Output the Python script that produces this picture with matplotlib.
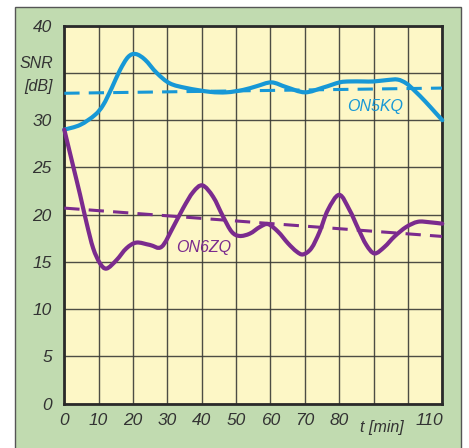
import matplotlib
matplotlib.use("Agg")
import matplotlib.pyplot as plt
from matplotlib.patches import Rectangle, PathPatch
from matplotlib.path import Path

# ON5KQ (blue) readings, t in minutes / SNR in dB
t_on5kq = [0, 4.6, 8.9, 11.3, 13.8, 16.2, 18.6, 20.8, 23.5, 26.9, 30.7,
           35.6, 42.4, 47.2, 52, 56, 60.3, 64.6, 70, 75.3, 80.1, 83, 87,
           90, 94, 97, 99.5, 102, 105, 108, 110]
snr_on5kq = [29.0, 29.5, 30.55, 31.6, 33.4, 35.3, 36.7, 37.0, 36.4,
             35.0, 33.9, 33.4, 33.0, 32.95, 33.2, 33.6, 34.0, 33.5, 32.95,
             33.45, 34.0, 34.1, 34.1, 34.1, 34.25, 34.3, 33.9, 33.1, 32.0, 30.8, 30.0]

# ON6ZQ (purple) readings
t_on6zq = [0, 2.6, 4.6, 6.5, 8.4, 10.4, 12.3, 15.2, 18.1, 21, 24.9, 28.3, 31.7,
           34.6, 37.5, 40.2, 43.3, 46.2, 48.7, 51, 54, 56.9, 59.3, 62.2, 65.1,
           67.6, 69.5, 71.9, 74.3, 76.7, 80, 83, 85.5, 87.9, 90.3, 93.2, 96.1,
           99.5, 102.9, 106.3, 110]
snr_on6zq = [29.0, 25.1, 22.1, 19.1, 16.45, 14.85, 14.3, 15.2, 16.45, 17.05, 16.8,
             16.6, 18.7, 20.7, 22.4, 23.1, 21.9, 19.8, 18.2, 17.75, 18.0, 18.7,
             19.0, 18.2, 16.97, 16.1, 15.8, 16.45, 18.2, 20.5, 22.1, 20.5, 18.55,
             16.8, 15.9, 16.6, 17.7, 18.7, 19.25, 19.2, 19.05]

# linear trends (dashed)
trend_t = [0, 110]
trend_on5kq = [32.85, 33.4]
trend_on6zq = [20.7, 17.7]

x_ticks = [0, 10, 20, 30, 40, 50, 60, 70, 80, 90, 100, 110]
x_labels = ["0", "10", "20", "30", "40", "50", "60", "70", "80", "", "", ""]
y_ticks = [0, 5, 10, 15, 20, 25, 30, 35, 40]
y_labels = ["0", "5", "10", "15", "20", "25", "30", "", "40"]

BLUE = "#1798d6"
PURPLE = "#7b2b8e"
YELLOW = "#fdf7c6"
GREEN = "#c1dbb0"
GRID = "#3a3a36"
TXT = "#333333"


def smooth_path(xs, ys, tension=0.5):
    # Catmull-Rom through the read points, drawn as cubic Bezier segments
    pts = list(zip(xs, ys))
    verts = [pts[0]]
    codes = [Path.MOVETO]
    n = len(pts)
    for i in range(n - 1):
        p0 = pts[i - 1] if i > 0 else pts[i]
        p1, p2 = pts[i], pts[i + 1]
        p3 = pts[i + 2] if i + 2 < n else pts[i + 1]
        c1 = (p1[0] + (p2[0] - p0[0]) * tension / 3, p1[1] + (p2[1] - p0[1]) * tension / 3)
        c2 = (p2[0] - (p3[0] - p1[0]) * tension / 3, p2[1] - (p3[1] - p1[1]) * tension / 3)
        verts += [c1, c2, p2]
        codes += [Path.CURVE4] * 3
    return Path(verts, codes)


plt.rcParams.update({
    "font.family": ["Liberation Sans", "DejaVu Sans"],
    "font.style": "italic",
    "font.size": 11,
})

fig = plt.figure(figsize=(4.69, 4.48), dpi=100)
fig.patch.set_facecolor("white")
fig.add_artist(Rectangle((15 / 469, -0.02), 446 / 469, 1.0 - 7 / 448 + 0.02,
                         transform=fig.transFigure, facecolor=GREEN,
                         edgecolor="#555555", linewidth=1.0, zorder=0))

ax = fig.add_axes([64.3 / 469, 44.3 / 448, 378 / 469, 378 / 448])
ax.set_facecolor(YELLOW)
ax.set_xlim(0, 110)
ax.set_ylim(0, 40)
ax.set_xticks(x_ticks)
ax.set_xticklabels(x_labels, fontstyle="italic", fontsize=12.5, color=TXT)
ax.set_yticks(y_ticks)
ax.set_yticklabels(y_labels, fontstyle="italic", fontsize=12.5, color=TXT)
ax.tick_params(length=0)
ax.tick_params(axis="x", pad=7)
ax.tick_params(axis="y", pad=9)
ax.grid(True, color=GRID, linewidth=1.0, alpha=0.9)
for s in ax.spines.values():
    s.set_linewidth(2.0)
    s.set_color("#2a2a2a")

dash = (5.0, 3.0)
ax.plot(trend_t, trend_on5kq, color=BLUE, lw=2.2, dashes=dash, zorder=3)
ax.plot(trend_t, trend_on6zq, color=PURPLE, lw=2.2, dashes=dash, zorder=3)
for xs, ys, col in [(t_on5kq, snr_on5kq, BLUE), (t_on6zq, snr_on6zq, PURPLE)]:
    ax.add_patch(PathPatch(smooth_path(xs, ys), facecolor="none", edgecolor=col,
                           lw=3.0, joinstyle="round", capstyle="round",
                           zorder=4, clip_on=False))

ax.text(90.5, 31.4, "ON5KQ", color=BLUE, fontsize=11.5, ha="center", va="center")
ax.text(40.5, 16.5, "ON6ZQ", color=PURPLE, fontsize=11.5, ha="center", va="center")

fig.text(53 / 469, 1 - 63.3 / 448, "SNR", ha="right", va="center",
         fontsize=11.5, color=TXT)
fig.text(53 / 469, 1 - 86.7 / 448, "[dB]", ha="right", va="center",
         fontsize=11.5, color=TXT)
fig.text(381.7 / 469, 1 - 427 / 448, "t [min]", ha="center", va="center",
         fontsize=11.5, color=TXT)
fig.text(429 / 469, 1 - 420 / 448, "110", ha="center", va="center",
         fontsize=12.5, color=TXT)

fig.savefig("out.png", dpi=100)
